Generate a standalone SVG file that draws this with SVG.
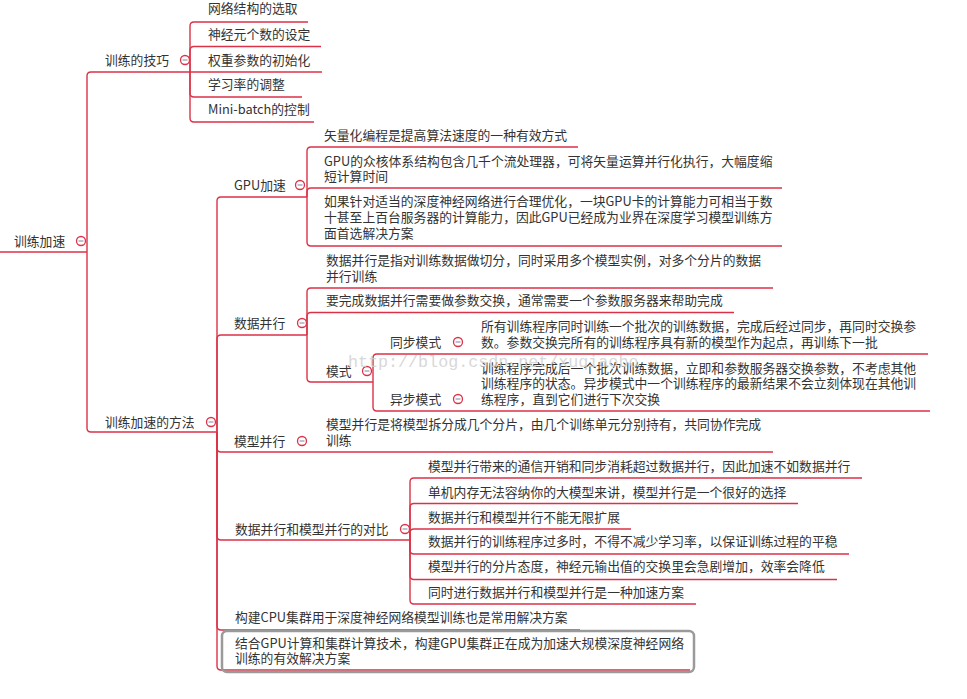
<svg xmlns="http://www.w3.org/2000/svg" width="967" height="699" viewBox="0 0 967 699">
<style>
.t{font-family:"Noto Sans CJK SC","Noto Sans",sans-serif;font-size:12.8px;fill:#333}
.c{fill:none;stroke:#dc3248;stroke-width:1.4}
.m{fill:#fff;stroke:#dc3248;stroke-width:1.3}
.mm{stroke:#8f99b0;stroke-width:1.2}
.wm{font-family:"Liberation Mono",monospace;font-size:16.7px;fill:#cfcfcf}
</style>
<defs>
<g id="mk"><circle class="m" cx="0" cy="0" r="4.5"/><line class="mm" x1="-2.5" y1="0" x2="2.5" y2="0"/></g>
</defs>
<rect width="967" height="699" fill="#fff"/>
<g id="connectors">
<path class="c" d="M0,252 H87"/>
<path class="c" d="M87,252 V76 Q87,72 91,72 H190"/>
<path class="c" d="M87,252 V428 Q87,432 91,432 H217"/>
<path class="c" d="M190,72 V26 Q190,22 194,22 H308"/>
<path class="c" d="M190,72 V50.5 Q190,46.5 194,46.5 H321"/>
<path class="c" d="M190,72 H322"/>
<path class="c" d="M190,72 V93 Q190,97 194,97 H302"/>
<path class="c" d="M190,72 V118 Q190,122 194,122 H314"/>
<path class="c" d="M217,432 V201 Q217,197 221,197 H307"/>
<path class="c" d="M217,432 V339 Q217,335 221,335 H307"/>
<path class="c" d="M217,432 V448 Q217,452 221,452 H773"/>
<path class="c" d="M217,432 V536 Q217,540 221,540 H410"/>
<path class="c" d="M217,432 V626 Q217,630 221,630 H580"/>
<path class="c" d="M217,432 V666 Q217,670 221,670 H690"/>
<path class="c" d="M307,197 V151 Q307,147 311,147 H578"/>
<path class="c" d="M307,197 V192 Q307,188 311,188 H782"/>
<path class="c" d="M307,197 V242 Q307,246 311,246 H782"/>
<path class="c" d="M307,335 V292 Q307,288 311,288 H773"/>
<path class="c" d="M307,335 V316.5 Q307,312.5 311,312.5 H734"/>
<path class="c" d="M307,335 V378 Q307,382 311,382 H373"/>
<path class="c" d="M373,382 V358 Q373,354 377,354 H928"/>
<path class="c" d="M373,382 V407 Q373,411 377,411 H930"/>
<path class="c" d="M410,540 V482 Q410,478 414,478 H862"/>
<path class="c" d="M410,540 V507.5 Q410,503.5 414,503.5 H798"/>
<path class="c" d="M410,540 V533 Q410,529 414,529 H631"/>
<path class="c" d="M410,540 V550 Q410,554 414,554 H849"/>
<path class="c" d="M410,540 V575.5 Q410,579.5 414,579.5 H837"/>
<path class="c" d="M410,540 V600 Q410,604 414,604 H696"/>
</g>
<g id="root"><text class="t" x="14" y="246">训练加速</text><use href="#mk" x="81" y="241"/></g>
<g id="skills"><text class="t" x="105" y="65">训练的技巧</text><use href="#mk" x="185" y="60"/></g>
<g id="s1"><text class="t" x="208" y="13">网络结构的选取</text></g>
<g id="s2"><text class="t" x="208" y="39">神经元个数的设定</text></g>
<g id="s3"><text class="t" x="208" y="65">权重参数的初始化</text></g>
<g id="s4"><text class="t" x="208" y="89">学习率的调整</text></g>
<g id="s5"><text class="t" x="208" y="114">Mini-batch的控制</text></g>
<g id="methods"><text class="t" x="105" y="427">训练加速的方法</text><use href="#mk" x="211" y="422"/></g>
<g id="gpu"><text class="t" x="234" y="190">GPU加速</text><use href="#mk" x="300" y="185"/></g>
<g id="gpu1"><text class="t" x="324" y="140">矢量化编程是提高算法速度的一种有效方式</text></g>
<g id="gpu2"><text class="t" x="324" y="166">GPU的众核体系结构包含几千个流处理器，可将矢量运算并行化执行，大幅度缩</text><text class="t" x="324" y="181">短计算时间</text></g>
<g id="gpu3"><text class="t" x="324" y="206">如果针对适当的深度神经网络进行合理优化，一块GPU卡的计算能力可相当于数</text><text class="t" x="324" y="222">十甚至上百台服务器的计算能力，因此GPU已经成为业界在深度学习模型训练方</text><text class="t" x="324" y="238">面首选解决方案</text></g>
<g id="dp"><text class="t" x="234" y="328">数据并行</text><use href="#mk" x="302" y="323"/></g>
<g id="dp1"><text class="t" x="326" y="265">数据并行是指对训练数据做切分，同时采用多个模型实例，对多个分片的数据</text><text class="t" x="326" y="281">并行训练</text></g>
<g id="dp2"><text class="t" x="326" y="305">要完成数据并行需要做参数交换，通常需要一个参数服务器来帮助完成</text></g>
<g id="mode"><text class="t" x="326" y="376">模式</text><use href="#mk" x="367" y="371"/></g>
<g id="sync"><text class="t" x="390" y="347">同步模式</text><use href="#mk" x="458" y="342"/></g>
<g id="sync1"><text class="t" x="481" y="331">所有训练程序同时训练一个批次的训练数据，完成后经过同步，再同时交换参</text><text class="t" x="481" y="347">数。参数交换完所有的训练程序具有新的模型作为起点，再训练下一批</text></g>
<g id="async"><text class="t" x="390" y="404">异步模式</text><use href="#mk" x="458" y="399"/></g>
<g id="async1"><text class="t" x="481" y="373">训练程序完成后一个批次训练数据，立即和参数服务器交换参数，不考虑其他</text><text class="t" x="481" y="388">训练程序的状态。异步模式中一个训练程序的最新结果不会立刻体现在其他训</text><text class="t" x="481" y="404">练程序，直到它们进行下次交换</text></g>
<g id="mp"><text class="t" x="234" y="446">模型并行</text><use href="#mk" x="302" y="441"/></g>
<g id="mp1"><text class="t" x="326" y="429">模型并行是将模型拆分成几个分片，由几个训练单元分别持有，共同协作完成</text><text class="t" x="326" y="445">训练</text></g>
<g id="cmp"><text class="t" x="235" y="534">数据并行和模型并行的对比</text><use href="#mk" x="405" y="529"/></g>
<g id="cmp1"><text class="t" x="428" y="471">模型并行带来的通信开销和同步消耗超过数据并行，因此加速不如数据并行</text></g>
<g id="cmp2"><text class="t" x="428" y="497">单机内存无法容纳你的大模型来讲，模型并行是一个很好的选择</text></g>
<g id="cmp3"><text class="t" x="428" y="522">数据并行和模型并行不能无限扩展</text></g>
<g id="cmp4"><text class="t" x="428" y="546">数据并行的训练程序过多时，不得不减少学习率，以保证训练过程的平稳</text></g>
<g id="cmp5"><text class="t" x="428" y="571">模型并行的分片态度，神经元输出值的交换里会急剧增加，效率会降低</text></g>
<g id="cmp6"><text class="t" x="428" y="597">同时进行数据并行和模型并行是一种加速方案</text></g>
<g id="cpu"><text class="t" x="235" y="622">构建CPU集群用于深度神经网络模型训练也是常用解决方案</text></g>
<g id="cluster"><rect x="222" y="631" width="472" height="41" rx="5" fill="none" stroke="#9a9a9a" stroke-width="2.5"/><text class="t" x="235" y="648">结合GPU计算和集群计算技术，构建GPU集群正在成为加速大规模深度神经网络</text><text class="t" x="235" y="663">训练的有效解决方案</text></g>
<text class="wm" x="348" y="367" opacity="0.8">http://blog.csdn.net/xuqiaobo</text>
</svg>
